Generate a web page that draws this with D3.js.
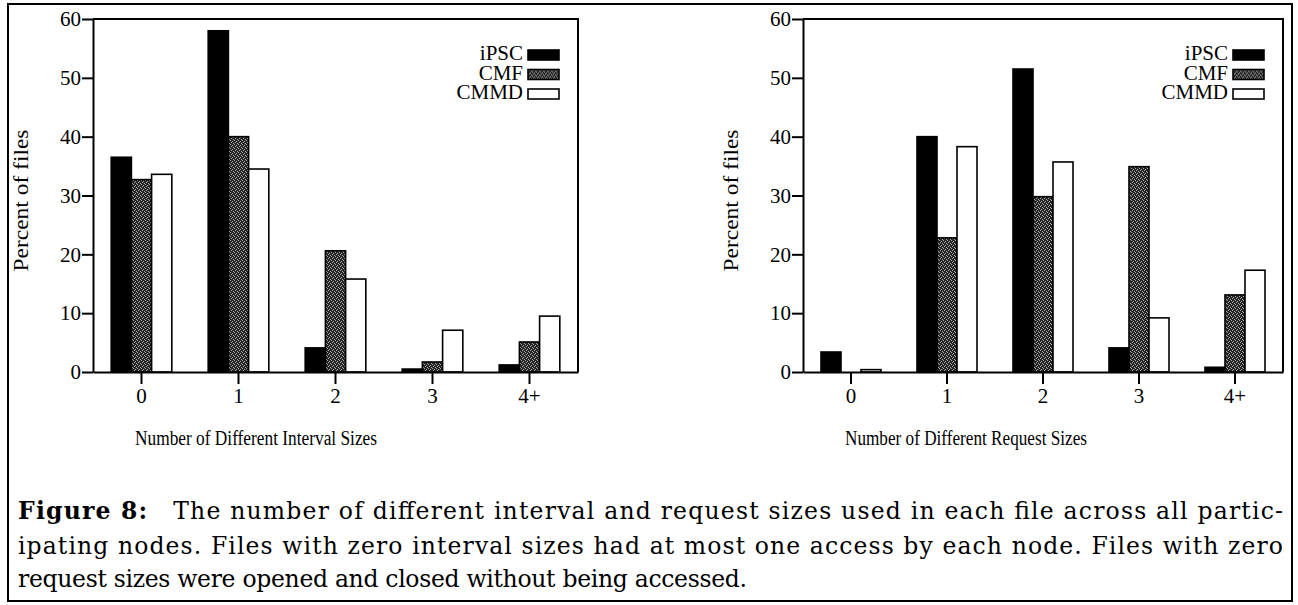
<!DOCTYPE html>
<html>
<head>
<meta charset="utf-8">
<script src="https://cdn.jsdelivr.net/npm/d3@7"></script>
<style>
  body { margin: 0; background: #fff; }
  svg { display: block; }
</style>
</head>
<body>
<svg width="1298" height="605"></svg>
<script>
// Data
const categories = ["0", "1", "2", "3", "4+"];
const seriesNames = ["iPSC", "CMF", "CMMD"];
const yTicks = [0, 10, 20, 30, 40, 50, 60];

const intervalIPSC = [36.5, 58, 4.1, 0.5, 1.2];
const intervalCMF = [32.7, 40, 20.6, 1.7, 5.1];
const intervalCMMD = [33.6, 34.5, 15.8, 7.1, 9.5];

const requestIPSC = [3.4, 40, 51.5, 4.1, 0.8];
const requestCMF = [0, 22.8, 29.8, 34.9, 13.1];
const requestCMMD = [0.4, 38.3, 35.7, 9.2, 17.3];

const svg = d3.select("svg");
const serif = "'Liberation Serif', 'Times New Roman', serif";

// fill patterns
const defs = svg.append("defs");
const pat = defs.append("pattern")
    .attr("id", "cmf")
    .attr("width", 4).attr("height", 4)
    .attr("patternUnits", "userSpaceOnUse");
pat.append("rect").attr("width", 4).attr("height", 4).attr("fill", "#262626");
[[0, 0], [2, 1], [1, 2], [3, 3]].forEach(p => {
    pat.append("rect").attr("x", p[0]).attr("y", p[1])
        .attr("width", 1).attr("height", 1).attr("fill", "#a8a8a8");
});
const fills = { iPSC: "#000", CMF: "url(#cmf)", CMMD: "#fff" };

// outer frame
svg.append("rect")
    .attr("x", 8).attr("y", 4).attr("width", 1284).attr("height", 597)
    .attr("fill", "none").attr("stroke", "#000").attr("stroke-width", 2);

function drawChart(left, right, title, vals) {
    const top = 19, bottom = 372;
    const x0 = d3.scaleBand().domain(categories).range([left, right]);
    const x1 = d3.scaleBand().domain(seriesNames)
        .range([0, x0.bandwidth()]).paddingInner(0).paddingOuter(0.9);
    const y = d3.scaleLinear().domain([0, 60]).range([bottom, top]);

    const rows = categories.map((c, i) => ({
        cat: c,
        values: seriesNames.map(s => ({ key: s, value: vals[s][i] }))
    }));

    const g = svg.append("g");
    g.selectAll("g.grp")
        .data(rows)
        .enter().append("g")
        .attr("class", "grp")
        .attr("transform", d => `translate(${x0(d.cat)},0)`)
        .selectAll("rect")
        .data(d => d.values.filter(v => v.value > 0))
        .enter().append("rect")
        .attr("x", d => x1(d.key))
        .attr("y", d => y(d.value))
        .attr("width", x1.bandwidth())
        .attr("height", d => y(0) - y(d.value))
        .attr("fill", d => fills[d.key])
        .attr("stroke", "#000")
        .attr("stroke-width", 1.6);

    // axes
    const yAxis = g.append("g")
        .attr("transform", `translate(${left},0)`)
        .call(d3.axisLeft(y).tickValues(yTicks).tickSize(11).tickSizeOuter(0).tickPadding(1));
    const xAxis = g.append("g")
        .attr("transform", `translate(0,${bottom})`)
        .call(d3.axisBottom(x0).tickSize(12).tickSizeOuter(0).tickPadding(4));
    [yAxis, xAxis].forEach(a => {
        a.selectAll("path, line").attr("stroke", "#000").attr("stroke-width", 2);
        a.selectAll("text").attr("fill", "#000")
            .style("font-family", serif).style("font-size", "21px");
    });
    // top and right frame of plot
    g.append("path")
        .attr("d", `M${left},${y(60)}H${right}V${y(0)}`)
        .attr("fill", "none").attr("stroke", "#000").attr("stroke-width", 2);

    // axis titles
    g.append("text")
        .attr("transform", `translate(${left - 65},${(top + bottom) / 2 + 5}) rotate(-90)`)
        .attr("text-anchor", "middle")
        .attr("textLength", 142).attr("lengthAdjust", "spacingAndGlyphs")
        .style("font-family", serif).style("font-size", "20px")
        .text("Percent of files");
    g.append("text")
        .attr("x", left + 42).attr("y", 445)
        .attr("textLength", 242).attr("lengthAdjust", "spacingAndGlyphs")
        .style("font-family", serif).style("font-size", "20px")
        .text(title);

    // legend
    const lg = g.append("g")
        .attr("transform", `translate(${right - 50},0)`)
        .selectAll("g")
        .data(seriesNames)
        .enter().append("g")
        .attr("transform", (d, i) => `translate(0,${60 + i * 19.5})`);
    lg.append("rect")
        .attr("x", 0).attr("y", -10).attr("width", 31).attr("height", 10)
        .attr("fill", d => fills[d]).attr("stroke", "#000").attr("stroke-width", 1.6);
    lg.append("text")
        .attr("x", -5).attr("y", 0)
        .attr("text-anchor", "end")
        .style("font-family", serif).style("font-size", "21px")
        .text(d => d);
}

drawChart(93, 578, "Number of Different Interval Sizes",
    { iPSC: intervalIPSC, CMF: intervalCMF, CMMD: intervalCMMD });
drawChart(803, 1283, "Number of Different Request Sizes",
    { iPSC: requestIPSC, CMF: requestCMF, CMMD: requestCMMD });

// caption
const cm = "'DejaVu Serif', 'Liberation Serif', serif";
const cap = svg.append("g").style("font-family", cm).style("font-size", "23.5px");
const l1 = cap.append("text").attr("x", 18).attr("y", 519)
    .attr("textLength", 1265).attr("lengthAdjust", "spacing");
l1.append("tspan").style("font-weight", "bold").text("Figure 8:");
l1.append("tspan").text("\u2003The number of different interval and request sizes used in each file across all partic-");
cap.append("text").attr("x", 18).attr("y", 554)
    .attr("textLength", 1265).attr("lengthAdjust", "spacing")
    .text("ipating nodes. Files with zero interval sizes had at most one access by each node. Files with zero");
cap.append("text").attr("x", 18).attr("y", 587)
    .attr("textLength", 729).attr("lengthAdjust", "spacing")
    .text("request sizes were opened and closed without being accessed.");
</script>
</body>
</html>
